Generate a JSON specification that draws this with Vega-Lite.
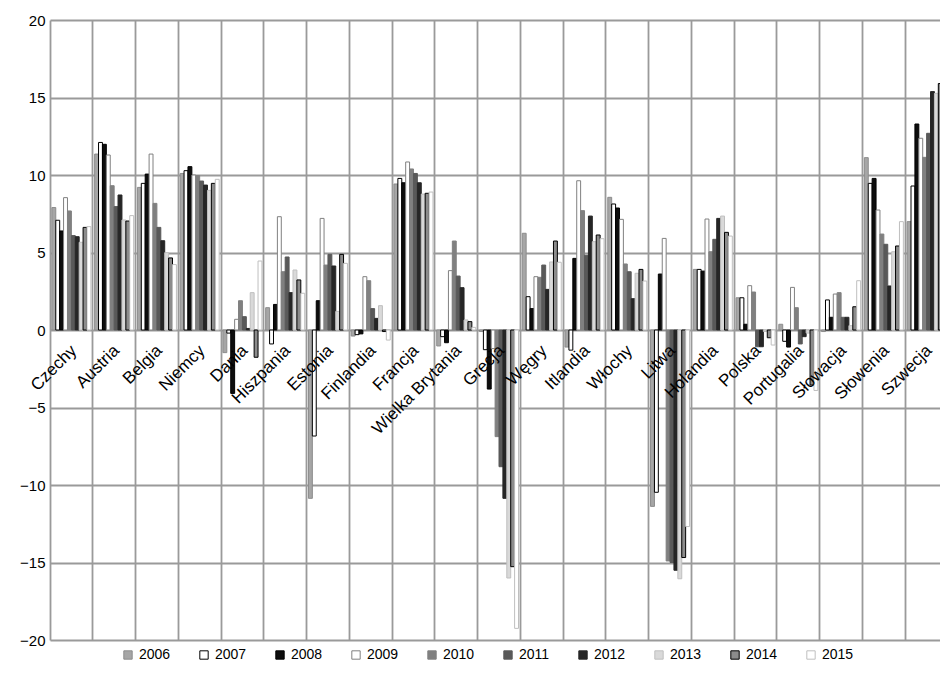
{
"$schema": "https://vega.github.io/schema/vega-lite/v6.json",
"width": 890, "height": 620,
"autosize": {"type": "none"},
"padding": {"left": 50, "top": 20, "right": 0, "bottom": 51},
"background": "white",
"config": {"view": {"stroke": null}, "font": "Liberation Sans"},
"data": {"values": [
{"c":"Czechy","y":"2006","v":7.9},{"c":"Czechy","y":"2007","v":7.08},{"c":"Czechy","y":"2008","v":6.39},{"c":"Czechy","y":"2009","v":8.54},{"c":"Czechy","y":"2010","v":7.68},{"c":"Czechy","y":"2011","v":6.09},{"c":"Czechy","y":"2012","v":6.02},{"c":"Czechy","y":"2013","v":5.66},{"c":"Czechy","y":"2014","v":6.62},{"c":"Czechy","y":"2015","v":6.67},
{"c":"Austria","y":"2006","v":11.35},{"c":"Austria","y":"2007","v":12.1},{"c":"Austria","y":"2008","v":11.98},{"c":"Austria","y":"2009","v":11.29},{"c":"Austria","y":"2010","v":9.31},{"c":"Austria","y":"2011","v":7.96},{"c":"Austria","y":"2012","v":8.71},{"c":"Austria","y":"2013","v":7.1},{"c":"Austria","y":"2014","v":7.03},{"c":"Austria","y":"2015","v":7.38},
{"c":"Belgia","y":"2006","v":9.2},{"c":"Belgia","y":"2007","v":9.46},{"c":"Belgia","y":"2008","v":10.06},{"c":"Belgia","y":"2009","v":11.35},{"c":"Belgia","y":"2010","v":8.17},{"c":"Belgia","y":"2011","v":6.62},{"c":"Belgia","y":"2012","v":5.76},{"c":"Belgia","y":"2013","v":4.99},{"c":"Belgia","y":"2014","v":4.65},{"c":"Belgia","y":"2015","v":4.22},
{"c":"Niemcy","y":"2006","v":10.1},{"c":"Niemcy","y":"2007","v":10.28},{"c":"Niemcy","y":"2008","v":10.54},{"c":"Niemcy","y":"2009","v":10.0},{"c":"Niemcy","y":"2010","v":9.96},{"c":"Niemcy","y":"2011","v":9.61},{"c":"Niemcy","y":"2012","v":9.35},{"c":"Niemcy","y":"2013","v":9.01},{"c":"Niemcy","y":"2014","v":9.46},{"c":"Niemcy","y":"2015","v":9.72},
{"c":"Dania","y":"2006","v":-1.46},{"c":"Dania","y":"2007","v":-0.2},{"c":"Dania","y":"2008","v":-4.09},{"c":"Dania","y":"2009","v":0.69},{"c":"Dania","y":"2010","v":1.89},{"c":"Dania","y":"2011","v":0.86},{"c":"Dania","y":"2012","v":0.1},{"c":"Dania","y":"2013","v":2.41},{"c":"Dania","y":"2014","v":-1.76},{"c":"Dania","y":"2015","v":4.45},
{"c":"Hiszpania","y":"2006","v":1.44},{"c":"Hiszpania","y":"2007","v":-0.9},{"c":"Hiszpania","y":"2008","v":1.65},{"c":"Hiszpania","y":"2009","v":7.31},{"c":"Hiszpania","y":"2010","v":3.76},{"c":"Hiszpania","y":"2011","v":4.71},{"c":"Hiszpania","y":"2012","v":2.41},{"c":"Hiszpania","y":"2013","v":3.87},{"c":"Hiszpania","y":"2014","v":3.23},{"c":"Hiszpania","y":"2015","v":2.37},
{"c":"Estonia","y":"2006","v":-10.86},{"c":"Estonia","y":"2007","v":-6.84},{"c":"Estonia","y":"2008","v":1.89},{"c":"Estonia","y":"2009","v":7.2},{"c":"Estonia","y":"2010","v":4.19},{"c":"Estonia","y":"2011","v":4.88},{"c":"Estonia","y":"2012","v":4.13},{"c":"Estonia","y":"2013","v":1.2},{"c":"Estonia","y":"2014","v":4.88},{"c":"Estonia","y":"2015","v":4.3},
{"c":"Finlandia","y":"2006","v":-0.39},{"c":"Finlandia","y":"2007","v":-0.3},{"c":"Finlandia","y":"2008","v":-0.25},{"c":"Finlandia","y":"2009","v":3.44},{"c":"Finlandia","y":"2010","v":3.18},{"c":"Finlandia","y":"2011","v":1.38},{"c":"Finlandia","y":"2012","v":0.75},{"c":"Finlandia","y":"2013","v":1.57},{"c":"Finlandia","y":"2014","v":-0.1},{"c":"Finlandia","y":"2015","v":-0.65},
{"c":"Francja","y":"2006","v":9.42},{"c":"Francja","y":"2007","v":9.78},{"c":"Francja","y":"2008","v":9.5},{"c":"Francja","y":"2009","v":10.84},{"c":"Francja","y":"2010","v":10.39},{"c":"Francja","y":"2011","v":10.1},{"c":"Francja","y":"2012","v":9.5},{"c":"Francja","y":"2013","v":8.77},{"c":"Francja","y":"2014","v":8.82},{"c":"Francja","y":"2015","v":8.9},
{"c":"Wielka Brytania","y":"2006","v":-1.03},{"c":"Wielka Brytania","y":"2007","v":-0.43},{"c":"Wielka Brytania","y":"2008","v":-0.82},{"c":"Wielka Brytania","y":"2009","v":3.83},{"c":"Wielka Brytania","y":"2010","v":5.74},{"c":"Wielka Brytania","y":"2011","v":3.48},{"c":"Wielka Brytania","y":"2012","v":2.73},{"c":"Wielka Brytania","y":"2013","v":0.65},{"c":"Wielka Brytania","y":"2014","v":0.54},{"c":"Wielka Brytania","y":"2015","v":0.17},
{"c":"Grecja","y":"2006","v":-0.1},{"c":"Grecja","y":"2007","v":-1.27},{"c":"Grecja","y":"2008","v":-3.81},{"c":"Grecja","y":"2009","v":-1.2},{"c":"Grecja","y":"2010","v":-6.88},{"c":"Grecja","y":"2011","v":-8.82},{"c":"Grecja","y":"2012","v":-10.86},{"c":"Grecja","y":"2013","v":-16.0},{"c":"Grecja","y":"2014","v":-15.27},{"c":"Grecja","y":"2015","v":-19.25},
{"c":"Węgry","y":"2006","v":6.24},{"c":"Węgry","y":"2007","v":2.15},{"c":"Węgry","y":"2008","v":1.38},{"c":"Węgry","y":"2009","v":3.44},{"c":"Węgry","y":"2010","v":3.4},{"c":"Węgry","y":"2011","v":4.19},{"c":"Węgry","y":"2012","v":2.62},{"c":"Węgry","y":"2013","v":4.39},{"c":"Węgry","y":"2014","v":5.74},{"c":"Węgry","y":"2015","v":4.37},
{"c":"Itlandia","y":"2006","v":-1.1},{"c":"Itlandia","y":"2007","v":-1.3},{"c":"Itlandia","y":"2008","v":4.62},{"c":"Itlandia","y":"2009","v":9.63},{"c":"Itlandia","y":"2010","v":7.7},{"c":"Itlandia","y":"2011","v":4.82},{"c":"Itlandia","y":"2012","v":7.35},{"c":"Itlandia","y":"2013","v":5.7},{"c":"Itlandia","y":"2014","v":6.13},{"c":"Itlandia","y":"2015","v":5.89},
{"c":"Włochy","y":"2006","v":8.56},{"c":"Włochy","y":"2007","v":8.13},{"c":"Włochy","y":"2008","v":7.87},{"c":"Włochy","y":"2009","v":7.14},{"c":"Włochy","y":"2010","v":4.26},{"c":"Włochy","y":"2011","v":3.76},{"c":"Włochy","y":"2012","v":2.02},{"c":"Włochy","y":"2013","v":3.66},{"c":"Włochy","y":"2014","v":3.91},{"c":"Włochy","y":"2015","v":3.16},
{"c":"Litwa","y":"2006","v":-11.38},{"c":"Litwa","y":"2007","v":-10.47},{"c":"Litwa","y":"2008","v":3.61},{"c":"Litwa","y":"2009","v":5.91},{"c":"Litwa","y":"2010","v":-14.9},{"c":"Litwa","y":"2011","v":-15.0},{"c":"Litwa","y":"2012","v":-15.5},{"c":"Litwa","y":"2013","v":-16.05},{"c":"Litwa","y":"2014","v":-14.68},{"c":"Litwa","y":"2015","v":-12.68},
{"c":"Holandia","y":"2006","v":3.91},{"c":"Holandia","y":"2007","v":3.91},{"c":"Holandia","y":"2008","v":3.8},{"c":"Holandia","y":"2009","v":7.16},{"c":"Holandia","y":"2010","v":5.05},{"c":"Holandia","y":"2011","v":5.85},{"c":"Holandia","y":"2012","v":7.2},{"c":"Holandia","y":"2013","v":7.35},{"c":"Holandia","y":"2014","v":6.3},{"c":"Holandia","y":"2015","v":6.06},
{"c":"Polska","y":"2006","v":2.08},{"c":"Polska","y":"2007","v":2.08},{"c":"Polska","y":"2008","v":0.37},{"c":"Polska","y":"2009","v":2.86},{"c":"Polska","y":"2010","v":2.45},{"c":"Polska","y":"2011","v":-1.08},{"c":"Polska","y":"2012","v":-1.08},{"c":"Polska","y":"2013","v":-0.1},{"c":"Polska","y":"2014","v":-0.5},{"c":"Polska","y":"2015","v":-0.97},
{"c":"Portugalia","y":"2006","v":0.37},{"c":"Portugalia","y":"2007","v":-0.73},{"c":"Portugalia","y":"2008","v":-1.1},{"c":"Portugalia","y":"2009","v":2.75},{"c":"Portugalia","y":"2010","v":1.44},{"c":"Portugalia","y":"2011","v":-0.9},{"c":"Portugalia","y":"2012","v":-0.43},{"c":"Portugalia","y":"2013","v":-0.2},{"c":"Portugalia","y":"2014","v":-3.55},{"c":"Portugalia","y":"2015","v":-3.9},
{"c":"Słowacja","y":"2006","v":-0.1},{"c":"Słowacja","y":"2007","v":1.94},{"c":"Słowacja","y":"2008","v":0.82},{"c":"Słowacja","y":"2009","v":2.32},{"c":"Słowacja","y":"2010","v":2.41},{"c":"Słowacja","y":"2011","v":0.82},{"c":"Słowacja","y":"2012","v":0.82},{"c":"Słowacja","y":"2013","v":0.28},{"c":"Słowacja","y":"2014","v":1.5},{"c":"Słowacja","y":"2015","v":3.18},
{"c":"Słowenia","y":"2006","v":11.12},{"c":"Słowenia","y":"2007","v":9.46},{"c":"Słowenia","y":"2008","v":9.78},{"c":"Słowenia","y":"2009","v":7.74},{"c":"Słowenia","y":"2010","v":6.19},{"c":"Słowenia","y":"2011","v":5.53},{"c":"Słowenia","y":"2012","v":2.84},{"c":"Słowenia","y":"2013","v":5.05},{"c":"Słowenia","y":"2014","v":5.42},{"c":"Słowenia","y":"2015","v":6.99},
{"c":"Szwecja","y":"2006","v":6.99},{"c":"Szwecja","y":"2007","v":9.29},{"c":"Szwecja","y":"2008","v":13.29},{"c":"Szwecja","y":"2009","v":12.37},{"c":"Szwecja","y":"2010","v":11.14},{"c":"Szwecja","y":"2011","v":12.69},{"c":"Szwecja","y":"2012","v":15.38},{"c":"Szwecja","y":"2013","v":15.27},{"c":"Szwecja","y":"2014","v":15.9},{"c":"Szwecja","y":"2015","v":16.0}
]},
"layer": [
{"mark": {"type": "bar", "strokeWidth": 1, "clip": true},
 "encoding": {
  "x": {"field": "c", "type": "nominal", "sort": null,
        "scale": {"range": [0, 898], "paddingInner": 0, "paddingOuter": 0},
        "axis": {"title": null, "labels": false, "ticks": false, "domain": false, "grid": true, "bandPosition": 0, "gridColor": "#9a9a9a", "gridWidth": 1.8}},
  "xOffset": {"field": "y", "type": "nominal", "sort": null, "scale": {"paddingInner": 0, "paddingOuter": 0.48}},
  "y": {"field": "v", "type": "quantitative", "scale": {"domain": [-20, 20], "nice": false},
        "axis": {"title": null, "values": [-20, -15, -10, -5, 0, 5, 10, 15, 20], "grid": true, "domain": false, "ticks": false, "labelFontSize": 15, "labelColor": "#000000", "labelPadding": 5, "gridColor": "#9a9a9a", "gridWidth": 1.8}},
  "fill": {"field": "y", "type": "nominal", "sort": null,
        "scale": {"range": ["#a6a6a6", "#ffffff", "#0d0d0d", "#ffffff", "#808080", "#595959", "#262626", "#d9d9d9", "#8c8c8c", "#ffffff"]},
        "legend": {"title": null, "orient": "none", "legendX": 71, "legendY": 628, "direction": "horizontal", "columns": 10, "symbolType": "square", "symbolSize": 70, "symbolStrokeWidth": 1, "labelFontSize": 14, "labelColor": "#000000", "columnPadding": 26, "labelOffset": 4}},
  "stroke": {"field": "y", "type": "nominal", "sort": null,
        "scale": {"range": ["#8c8c8c", "#000000", "#000000", "#808080", "#808080", "#595959", "#262626", "#bfbfbf", "#000000", "#bfbfbf"]},
        "legend": {"title": null, "orient": "none", "legendX": 71, "legendY": 628, "direction": "horizontal", "columns": 10, "symbolType": "square", "symbolSize": 70, "symbolStrokeWidth": 1, "labelFontSize": 14, "labelColor": "#000000", "columnPadding": 26, "labelOffset": 4}}
 }},
{"transform": [{"filter": "datum.y == '2006'"}],
 "mark": {"type": "text", "angle": -45, "align": "right", "baseline": "middle", "dx": -11, "dy": 14.6, "fontSize": 17, "color": "#000000"},
 "encoding": {
  "x": {"field": "c", "type": "nominal", "sort": null},
  "y": {"datum": 0},
  "text": {"field": "c"}
 }}
]
}
